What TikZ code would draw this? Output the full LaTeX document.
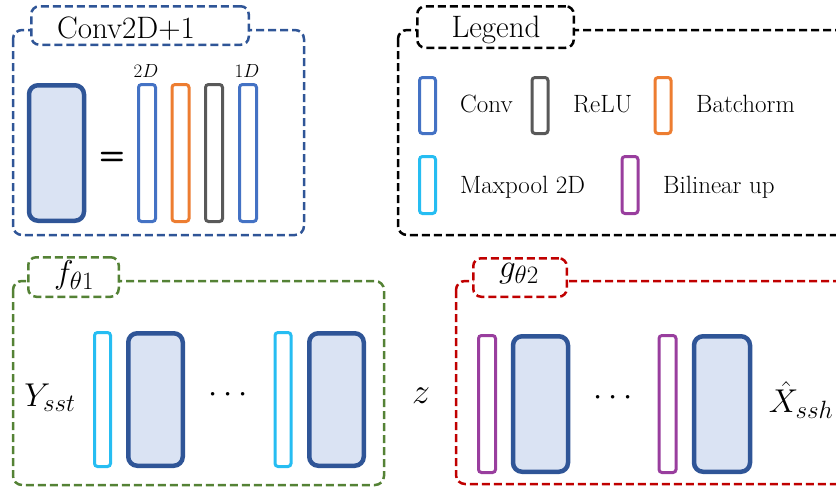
\RequirePackage{fix-cm}
\documentclass[tikz,border=0pt]{standalone}
\usepackage{fontspec}
\newcommand{\subsz}[1]{\mbox{\fontsize{25}{30}\selectfont$#1$}}
\definecolor{darkblue}{HTML}{2F5597}
\definecolor{blockfill}{HTML}{DAE3F3}
\definecolor{convblue}{HTML}{4472C4}
\definecolor{bnorange}{HTML}{ED7D31}
\definecolor{relugray}{HTML}{595959}
\definecolor{poolcyan}{HTML}{26BDF2}
\definecolor{uppurple}{HTML}{993E9E}
\definecolor{fgreen}{HTML}{548235}
\definecolor{gred}{HTML}{C00000}
\begin{document}
\begin{tikzpicture}[x=1pt,y=-1pt,
  frame/.style={line width=2.5pt, dash pattern=on 8pt off 4pt, rounded corners=9pt},
  tab/.style={draw, fill=white, line width=2.5pt, dash pattern=on 8pt off 4pt, rounded corners=8pt, inner sep=0pt},
  block/.style={draw=darkblue, fill=blockfill, line width=4.5pt, rounded corners=9pt, minimum width=55pt, inner sep=0pt},
  bar/.style={draw=#1, fill=white, line width=3pt, rounded corners=3pt, minimum width=17pt, inner sep=0pt},
  lbar/.style={draw=#1, fill=white, line width=3pt, rounded corners=3pt, minimum width=16pt, minimum height=56pt, inner sep=0pt},
  lab/.style={font=\fontsize{25}{30}\selectfont, inner sep=0pt, anchor=base west},
  mathlab/.style={font=\fontsize{33}{38}\selectfont, inner sep=0pt}
]
\useasboundingbox (0,0) rectangle (836,490);
\clip (0,0) rectangle (836,490);

% ---------- Conv2D+1 ----------
\draw[frame, draw=darkblue] (13,30) rectangle (304,235);
\node[tab, draw=darkblue, minimum width=217.5pt, minimum height=38.5pt] (convtab) at (140,25.5) {};
\node[font=\fontsize{31}{36}\selectfont, inner sep=0pt, anchor=base] (convtitle) at (126,38) {Conv2D+1};
\node[block, minimum height=135.5pt] (convblock) at (56.5,153) {};
\node[font=\sffamily\bfseries\fontsize{30}{36}\selectfont, inner sep=0pt] (eq) at (112,158) {=};
\node[bar=convblue, minimum height=137pt] (c1) at (147,153) {};
\node[bar=bnorange, minimum height=137pt] (c2) at (180.5,153) {};
\node[bar=relugray, minimum height=137pt] (c3) at (214,153) {};
\node[bar=convblue, minimum height=137pt] (c4) at (248,153) {};
\node[font=\fontsize{19}{22}\selectfont, inner sep=0pt] (l2d) at (146,71) {$2D$};
\node[font=\fontsize{19}{22}\selectfont, inner sep=0pt] (l1d) at (247,71) {$1D$};

% ---------- Legend ----------
\draw[frame, draw=black] (398,30) rectangle (870,235);
\node[tab, draw=black, minimum width=156.5pt, minimum height=41.5pt] (legtab) at (495.5,27) {};
\node[font=\fontsize{31}{36}\selectfont, inner sep=0pt, anchor=base] (legtitle) at (496,37) {Legend};
\node[lbar=convblue] (lconv) at (427.5,105.5) {};
\node[lbar=relugray] (lrelu) at (540,105.5) {};
\node[lbar=bnorange] (lbn) at (663,105.5) {};
\node[lbar=poolcyan, minimum height=57pt] (lpool) at (427.5,185) {};
\node[lbar=uppurple, minimum height=57pt] (lup) at (630,185) {};
\node[lab] (tconv) at (460,112) {Conv};
\node[lab] (trelu) at (573,112) {ReLU};
\node[lab] (tbn) at (696,112) {Batchorm};
\node[lab] (tpool) at (460,193) {Maxpool 2D};
\node[lab] (tup) at (663,193) {Bilinear up};

% ---------- f_theta1 ----------
\draw[frame, draw=fgreen] (13,281) rectangle (384,485);
\node[tab, draw=fgreen, minimum width=90.5pt, minimum height=39.5pt] (ftab) at (73.5,277) {};
\node[mathlab] (ftitle) at (74,275) {$f_{\subsz{\theta 1}}$};
\node[mathlab] (ysst) at (50,398) {$Y_{\subsz{sst}}$};
\node[bar=poolcyan, minimum height=134pt, minimum width=16pt] (f1) at (102.5,399.5) {};
\node[block, minimum height=132.5pt, minimum width=54.5pt] (f2) at (155.5,399.5) {};
\node[mathlab] (fdots) at (228,395) {$\cdots$};
\node[bar=poolcyan, minimum height=134pt, minimum width=16pt] (f3) at (283,399.5) {};
\node[block, minimum height=132.5pt, minimum width=54.5pt] (f4) at (336.5,399.5) {};

\node[font=\fontsize{36}{42}\selectfont, inner sep=0pt] (z) at (421,396) {$z$};

% ---------- g_theta2 ----------
\draw[frame, draw=gred] (456,281) rectangle (870,484);
\node[tab, draw=gred, minimum width=93.5pt, minimum height=38.5pt] (gtab) at (520,277.5) {};
\node[mathlab] (gtitle) at (519,274) {$g_{\subsz{\theta 2}}$};
\node[bar=uppurple, minimum height=137pt] (g1) at (487,404) {};
\node[block, minimum height=135.5pt, minimum width=55pt] (g2) at (540.5,404) {};
\node[mathlab] (gdots) at (613,398) {$\cdots$};
\node[bar=uppurple, minimum height=137pt] (g3) at (667.5,404) {};
\node[block, minimum height=135.5pt, minimum width=56pt] (g4) at (722,404) {};
\node[mathlab] (xssh) at (801,400) {$\hat{X}_{\subsz{ssh}}$};
\end{tikzpicture}
\end{document}
